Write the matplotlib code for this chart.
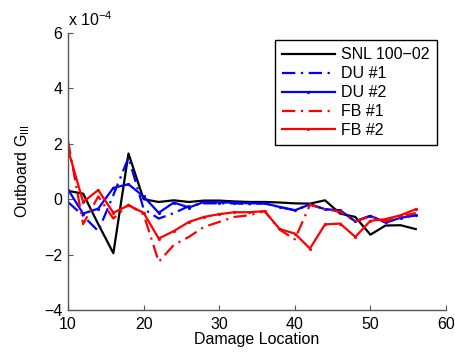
import matplotlib
matplotlib.use("Agg")
import matplotlib.pyplot as plt
import numpy as np

plt.rcParams['font.family'] = ['Liberation Sans', 'DejaVu Sans']
plt.rcParams['mathtext.fontset'] = 'custom'
plt.rcParams['mathtext.rm'] = 'Liberation Sans'
plt.rcParams['mathtext.it'] = 'Liberation Sans:italic'
plt.rcParams['axes.unicode_minus'] = True

location = list(range(10, 57, 2))

snl_100_02 = [0.3, 0.2, -0.9, -1.95, 1.65, 0.0, -0.1, -0.04, -0.1, -0.05, -0.05, -0.08,
              -0.1, -0.1, -0.12, -0.15, -0.16, -0.04, -0.52, -0.64, -1.28, -0.95, -0.94, -1.08]
du_1 = [-0.1, -0.6, -1.15, 0.15, 1.5, -0.35, -0.7, -0.5, -0.25, -0.15, -0.15, -0.15,
        -0.18, -0.15, -0.28, -0.4, -0.19, -0.36, -0.42, -0.8, -0.6, -0.84, -0.67, -0.58]
du_2 = [0.35, -0.52, -0.34, 0.41, 0.54, 0.1, -0.49, -0.12, -0.3, -0.1, -0.12, -0.12,
        -0.15, -0.15, -0.28, -0.4, -0.19, -0.36, -0.4, -0.8, -0.6, -0.84, -0.67, -0.58]
fb_1 = [2.1, -0.9, 0.1, -0.7, -0.2, -0.55, -2.26, -1.65, -1.36, -1.0, -0.82, -0.64,
        -0.58, -0.43, -1.1, -1.45, -0.2, -0.36, -0.45, -0.8, -0.62, -0.8, -0.62, -0.5]
fb_2 = [1.8, -0.1, 0.33, -0.49, -0.22, -0.49, -1.42, -1.15, -0.82, -0.64, -0.54, -0.47,
        -0.47, -0.43, -1.08, -1.24, -1.78, -0.91, -0.88, -1.36, -0.78, -0.72, -0.58, -0.36]

scale = 1e-4
series = [
    ("SNL 100\u221202", snl_100_02, 'black', '-', None),
    ("DU #1", du_1, 'blue', (0, (6, 2.5, 1, 2.5)), None),
    ("DU #2", du_2, 'blue', '-', '.'),
    ("FB #1", fb_1, 'red', (0, (6, 2.5, 1, 2.5)), None),
    ("FB #2", fb_2, 'red', '-', '.'),
]

fig = plt.figure(figsize=(4.55, 3.52), dpi=100)
ax = fig.add_axes([68/455, 42/352, 378/455, 277/352])

for label, vals, color, ls, mk in series:
    ax.plot(location, np.array(vals) * scale, color=color, linestyle=ls, linewidth=1.6,
            marker=mk, markersize=2.5, label=label)

ax.set_xlim(10, 60)
ax.set_ylim(-4e-4, 6e-4)
ax.set_xticks([10, 20, 30, 40, 50, 60])
yt = [-4, -2, 0, 2, 4, 6]
ax.set_yticks([v * scale for v in yt])
ax.set_yticklabels([str(v).replace('-', '\u2212') for v in yt])

for s in ['top', 'right']:
    ax.spines[s].set_visible(False)
for s in ['left', 'bottom']:
    ax.spines[s].set_color('#555555')
    ax.spines[s].set_linewidth(1.0)
ax.tick_params(direction='in', length=3.5, width=0.8, color='#555555',
               labelsize=11.5, labelcolor='black')
ax.tick_params(axis='x', pad=5)
ax.tick_params(axis='y', pad=4)

ax.set_xlabel("Damage Location", fontsize=11.5, labelpad=0)
ax.set_ylabel("Outboard G$_{\\mathrm{III}}$", fontsize=11.5, labelpad=9)

ax.text(0.0, 1.015, "x 10$^{\\mathrm{\u22124}}$", transform=ax.transAxes,
        fontsize=11.5, ha='left', va='bottom')

leg = ax.legend(loc='upper right', bbox_to_anchor=(0.976, 0.975), borderaxespad=0,
                fontsize=11.5, handlelength=3.3, handletextpad=0.4, labelspacing=0.25,
                fancybox=False, framealpha=1, edgecolor='black', borderpad=0.45)
leg.get_frame().set_linewidth(1.0)

fig.savefig("out.png", dpi=100)
